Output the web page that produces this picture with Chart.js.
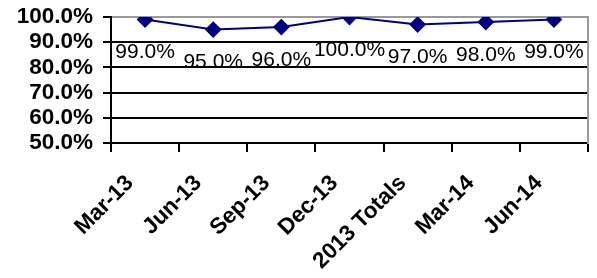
<!DOCTYPE html>
<html>
<head>
<meta charset="utf-8">
<script src="https://cdn.jsdelivr.net/npm/chart.js@4"></script>
<style>
  html, body { margin: 0; padding: 0; background: #fff; }
  #wrap { width: 597px; height: 278px; position: relative; }
</style>
</head>
<body>
<div id="wrap"><canvas id="chart"></canvas></div>
<script>
// quarters shown on the x axis
const LABELS = ["Mar-13", "Jun-13", "Sep-13", "Dec-13", "2013 Totals", "Mar-14", "Jun-14"];
// percentage per quarter
const VALUES = [99.0, 95.0, 96.0, 100.0, 97.0, 98.0, 99.0];
// y axis range
const Y_MIN = 50;
const Y_MAX = 100;
const Y_STEP = 10;

const FONT = "'Liberation Sans', Arial, sans-serif";
const NAVY = "#000080";
const BORDER_GREY = "#999";

// draws the value text under every point, like the excel data labels
const valueLabels = {
  id: "valueLabels",
  afterDatasetsDraw(chart) {
    const ctx = chart.ctx;
    const meta = chart.getDatasetMeta(0);
    ctx.save();
    ctx.font = "21px " + FONT;
    ctx.fillStyle = "#000";
    ctx.textAlign = "center";
    ctx.textBaseline = "middle";
    meta.data.forEach((pt, i) => {
      ctx.fillText(VALUES[i].toFixed(1) + "%", pt.x, pt.y + 33);
    });
    ctx.restore();
  },
};

new Chart(document.getElementById("chart"), {
  type: "line",
  data: {
    labels: LABELS,
    datasets: [{
      data: VALUES,
      borderColor: NAVY,
      backgroundColor: NAVY,
      borderWidth: 2,
      pointStyle: "rectRot",
      pointRadius: 7,
      pointHoverRadius: 7,
      tension: 0,
    }],
  },
  options: {
    responsive: true,
    maintainAspectRatio: false,
    animation: false,
    layout: { padding: { top: 17, right: 6, bottom: 0, left: 0 } },
    plugins: {
      legend: { display: false },
      tooltip: { enabled: false },
    },
    scales: {
      x: {
        offset: true,
        afterFit: s => { s.height = 135; },
        grid: {
          offset: true,
          drawOnChartArea: false,
          color: "#000",
          tickLength: 9,
          lineWidth: 2,
        },
        border: { color: "#000", width: 2 },
        ticks: {
          color: "#000",
          font: { family: FONT, size: 22.5, weight: "bold" },
          minRotation: 45,
          maxRotation: 45,
          autoSkip: false,
          labelOffset: -15,
          padding: 18,
        },
      },
      y: {
        min: Y_MIN,
        max: Y_MAX,
        afterFit: s => { s.width = 111; },
        grid: {
          color: c => (c.tick && c.tick.value === Y_MAX ? BORDER_GREY : "#000"),
          tickColor: "#000",
          tickLength: 8,
          lineWidth: 2,
        },
        border: { color: "#000", width: 2 },
        ticks: {
          stepSize: Y_STEP,
          autoSkip: false,
          color: "#000",
          padding: 10,
          font: { family: FONT, size: 22.5, weight: "bold", lineHeight: 0.6 },
          callback: v => v.toFixed(1) + "%",
        },
      },
      // empty axis, only there for the grey right edge of the plot
      y2: {
        position: "right",
        afterFit: s => { s.width = 0; },
        grid: { display: false },
        ticks: { display: false },
        border: { color: BORDER_GREY, width: 2 },
      },
    },
  },
  plugins: [valueLabels],
});
</script>
</body>
</html>
